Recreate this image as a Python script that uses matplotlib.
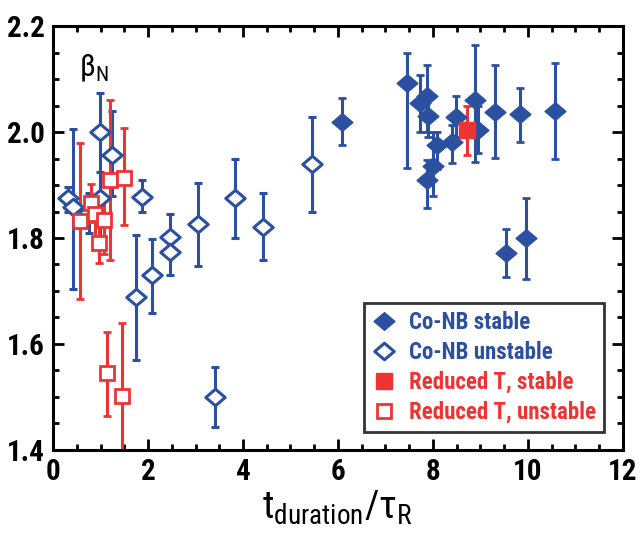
import matplotlib.pyplot as plt
from matplotlib.path import Path
from matplotlib.ticker import FormatStrFormatter, MultipleLocator

plt.rcParams["font.family"] = ["Roboto Condensed", "DejaVu Sans"]
plt.rcParams["mathtext.fontset"] = "custom"
plt.rcParams["mathtext.rm"] = "Roboto Condensed"
plt.rcParams["mathtext.it"] = "Roboto Condensed"
plt.rcParams["mathtext.bf"] = "Roboto Condensed:bold"

BLUE = "#2b509f"
RED = "#ee3333"

# Co-NB stable: t_duration/tau_R, beta_N, lower and upper error limits
stab_t = [6.08, 7.45, 7.73, 7.87, 7.90, 8.08, 8.00, 7.87, 8.40, 8.48, 8.88, 8.95, 9.30, 9.83, 10.57, 9.54, 9.96]
stab_b = [2.019, 2.092, 2.055, 2.068, 2.030, 1.975, 1.936, 1.910, 1.981, 2.028, 2.060, 2.004, 2.038, 2.034, 2.040, 1.772, 1.800]
stab_lo = [1.975, 1.932, 2.000, 2.000, 1.990, 1.930, 1.880, 1.857, 1.942, 1.990, 1.943, 1.960, 1.951, 1.981, 1.949, 1.726, 1.723]
stab_hi = [2.064, 2.150, 2.108, 2.126, 2.070, 2.000, 2.000, 1.947, 2.013, 2.068, 2.164, 2.050, 2.126, 2.083, 2.130, 1.817, 1.875]

# Co-NB unstable
unst_t = [0.32, 0.42, 0.75, 0.99, 0.99, 1.24, 1.87, 1.75, 2.08, 2.47, 2.47, 3.06, 3.83, 4.42, 3.41, 5.45]
unst_b = [1.876, 1.858, 1.850, 1.875, 2.000, 1.957, 1.877, 1.689, 1.730, 1.802, 1.774, 1.826, 1.875, 1.821, 1.500, 1.940]
unst_lo = [1.850, 1.704, 1.810, 1.800, 1.860, 1.880, 1.850, 1.570, 1.658, 1.770, 1.730, 1.747, 1.800, 1.758, 1.443, 1.849]
unst_hi = [1.896, 2.006, 1.885, 1.925, 2.074, 2.040, 1.910, 1.806, 1.798, 1.845, 1.810, 1.904, 1.950, 1.885, 1.557, 2.028]

# Reduced T, stable
rts_t = [8.72]
rts_b = [2.004]
rts_lo = [1.957]
rts_hi = [2.050]

# Reduced T, unstable
rtu_t = [0.57, 0.80, 0.88, 0.97, 1.07, 1.20, 1.49, 1.13, 1.45]
rtu_b = [1.832, 1.866, 1.845, 1.790, 1.834, 1.909, 1.913, 1.545, 1.502]
rtu_lo = [1.685, 1.830, 1.800, 1.753, 1.770, 1.758, 1.825, 1.464, 1.380]
rtu_hi = [1.980, 1.902, 1.880, 1.830, 1.880, 2.060, 2.007, 1.623, 1.640]

# slightly flattened diamond
diamond = Path([(-1, 0), (0, 0.85), (1, 0), (0, -0.85), (-1, 0)],
               [Path.MOVETO, Path.LINETO, Path.LINETO, Path.LINETO, Path.CLOSEPOLY])


def errs(b, lo, hi):
    return [[v - l for v, l in zip(b, lo)], [h - v for v, h in zip(b, hi)]]


fig = plt.figure(figsize=(6.4, 5.33), dpi=100)
ax = fig.add_axes([0.083, 0.156, 0.89, 0.795])

ebkw = dict(linestyle="none", elinewidth=2.2, capsize=3, capthick=2)

ax.errorbar(unst_t, unst_b, yerr=errs(unst_b, unst_lo, unst_hi), color=BLUE, marker=diamond,
            markersize=14, mfc="white", mec=BLUE, mew=2.2, label="Co-NB unstable", **ebkw)
ax.errorbar(rtu_t, rtu_b, yerr=errs(rtu_b, rtu_lo, rtu_hi), color=RED, marker="s",
            markersize=10, mfc="white", mec=RED, mew=2, label="Reduced T, unstable", **ebkw)
ax.errorbar(stab_t, stab_b, yerr=errs(stab_b, stab_lo, stab_hi), color=BLUE, marker=diamond,
            markersize=15, mfc=BLUE, mec=BLUE, label="Co-NB stable", **ebkw)
ax.errorbar(rts_t, rts_b, yerr=errs(rts_b, rts_lo, rts_hi), color=RED, marker="s",
            markersize=11, mfc=RED, mec=RED, label="Reduced T, stable", **ebkw)

ax.set_xlim(0, 12)
ax.set_ylim(1.4, 2.2)
ax.xaxis.set_major_locator(MultipleLocator(2))
ax.xaxis.set_minor_locator(MultipleLocator(0.5))
ax.yaxis.set_major_locator(MultipleLocator(0.2))
ax.yaxis.set_minor_locator(MultipleLocator(0.05))
ax.yaxis.set_major_formatter(FormatStrFormatter("%.1f"))
ax.tick_params(which="both", direction="in", top=True, right=True, width=2)
ax.tick_params(which="major", length=8, labelsize=21, pad=6)
ax.tick_params(which="minor", length=4)
for s in ax.spines.values():
    s.set_linewidth(2.2)
fig.canvas.draw()
for lab in ax.get_xticklabels() + ax.get_yticklabels():
    lab.set_fontweight("bold")

ax.set_xlabel(r"$\mathrm{t_{duration}/\tau_R}$", fontsize=28, labelpad=2)
ax.text(0.045, 0.94, r"$\mathrm{\beta_N}$", transform=ax.transAxes, fontsize=22, va="top")

handles, labels = ax.get_legend_handles_labels()
order = [2, 0, 3, 1]
handles = [h[0] for h in handles]
leg = ax.legend([handles[i] for i in order], [labels[i] for i in order], loc="lower right",
                bbox_to_anchor=(0.987, 0.015), frameon=True, fancybox=False, handlelength=1.0,
                handletextpad=0.6, borderpad=0.35, labelspacing=0.3,
                prop={"family": "Roboto Condensed", "weight": "bold", "size": 16.5})
leg.get_frame().set_edgecolor("black")
leg.get_frame().set_linewidth(2)
for txt, c in zip(leg.get_texts(), [BLUE, BLUE, RED, RED]):
    txt.set_color(c)

fig.savefig("out.png", dpi=100)
